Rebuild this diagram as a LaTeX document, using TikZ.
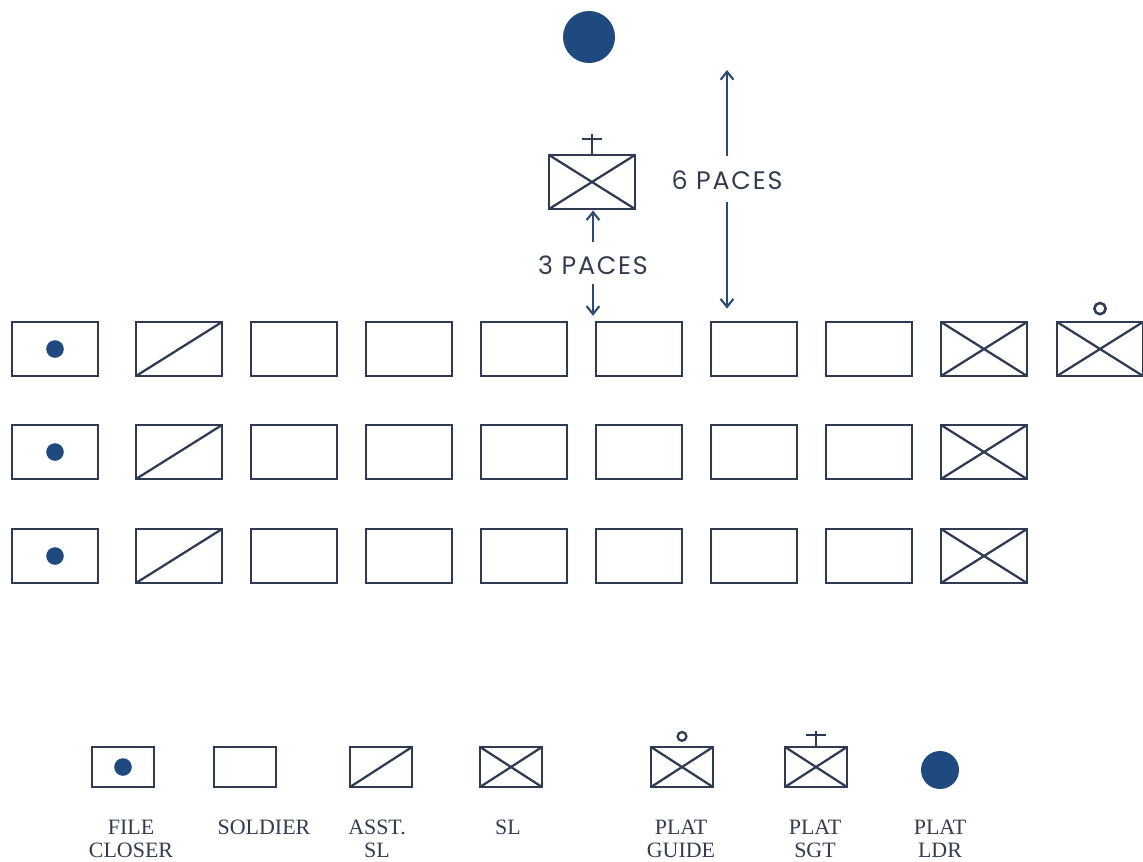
\documentclass[tikz,border=0pt]{standalone}
\usepackage{fontspec}
\setmainfont{Liberation Serif}
\newfontfamily\pacefont[LetterSpace=7]{Poppins}
\usetikzlibrary{arrows.meta,positioning}
\definecolor{mline}{HTML}{2E3B52}
\definecolor{mnavy}{HTML}{1F4A80}
\definecolor{marrow}{HTML}{2D4A72}
\definecolor{mtext}{HTML}{333D4F}

\begin{document}
\begin{tikzpicture}[x=0.025cm, y=-0.025cm,
  man/.style={draw=mline, line width=2pt, minimum width=2.15cm,
              minimum height=1.35cm, inner sep=0pt},
  key/.style={draw=mline, line width=2pt, minimum width=1.55cm,
              minimum height=1.0cm, inner sep=0pt},
  fcl/.style={path picture={\fill[mnavy] (path picture bounding box.center) circle (0.22cm);}},
  asl/.style={path picture={\draw[mline, line width=1.6pt]
      (path picture bounding box.south west) -- (path picture bounding box.north east);}},
  slx/.style={path picture={\draw[mline, line width=1.6pt]
      (path picture bounding box.south west) -- (path picture bounding box.north east)
      (path picture bounding box.north west) -- (path picture bounding box.south east);}},
  pace/.style={font=\pacefont\fontsize{18}{20}\selectfont, text=mtext, inner sep=0pt},
  keytxt/.style={font=\fontsize{15.6}{16.3}\selectfont, text=mtext, align=center,
                 anchor=north, inner sep=0pt},
  parr/.style={-{Straight Barb[length=0.2cm, width=0.32cm]}, marrow, line width=1.5pt}]
  \useasboundingbox (0,0) rectangle (1143,861);
  % formation
  \foreach \row/\y in {1/349, 2/452, 3/556}{
    \node[man, fcl] (r\row c1) at (55,\y) {};
    \node[man, asl] (r\row c2) at (179,\y) {};
    \foreach \col/\x in {3/294, 4/409, 5/524, 6/639, 7/754, 8/869}
      \node[man] (r\row c\col) at (\x,\y) {};
    \node[man, slx] (r\row c9) at (984,\y) {};
  }
  \node[man, slx] (r1c10) at (1100,349) {};
  \draw[mline, line width=1.8pt] ([yshift=0.3cm]r1c10.north) circle (0.14cm);
  % platoon sergeant and leader
  \node[man, slx] (sgt) at (592,182) {};
  \draw[mline, line width=1.8pt] (sgt.north) -- ++(0,0.5cm)
    ([yshift=0.36cm]sgt.north) ++(-0.26cm,0) -- ++(0.52cm,0);
  \node[circle, fill=mnavy, minimum size=1.3cm, inner sep=0pt] (ldr) at (589,37) {};
  % distances
  \node[pace] (p3) at (593,265) {3 PACES};
  \draw[parr, shorten <=0.33cm] (p3.north) -- (p3.north |- sgt.south);
  \draw[parr, shorten <=0.23cm, shorten >=0.12cm] (p3.south) -- (p3.south |- r1c6.north);
  \node[pace] (p6) at (727,180) {6 PACES};
  \coordinate (top6) at (727,70);
  \draw[parr, shorten <=0.36cm] (p6.north) -- (top6);
  \draw[parr, shorten <=0.3cm, shorten >=0.3cm] (p6.south) -- (p6.south |- r1c7.north);
  % legend
  \node[key, fcl] (kfc) at (123,767) {};
  \node[key] (ksol) at (245,767) {};
  \node[key, asl] (kasl) at (381,767) {};
  \node[key, slx] (ksl) at (511,767) {};
  \node[key, slx] (kgd) at (682,767) {};
  \draw[mline, line width=1.6pt] ([yshift=0.23cm]kgd.north) circle (0.11cm);
  \node[key, slx] (ksg) at (816,767) {};
  \draw[mline, line width=1.6pt] (ksg.north) -- ++(0,0.36cm)
    ([yshift=0.26cm]ksg.north) ++(-0.25cm,0) -- ++(0.5cm,0);
  \node[circle, fill=mnavy, minimum size=0.95cm, inner sep=0pt] (kldr) at (940,770) {};
  \node[keytxt] (tfc) at (131,820) {FILE\\CLOSER};
  \node[keytxt] (tsol) at (264,820) {SOLDIER};
  \node[keytxt] (tasl) at (377,820) {ASST.\\SL};
  \node[keytxt] (tsl) at (508,820) {SL};
  \node[keytxt] (tgd) at (681,820) {PLAT\\GUIDE};
  \node[keytxt] (tsg) at (815,820) {PLAT\\SGT};
  \node[keytxt] (tldr) at (940,820) {PLAT\\LDR};
\end{tikzpicture}
\end{document}
